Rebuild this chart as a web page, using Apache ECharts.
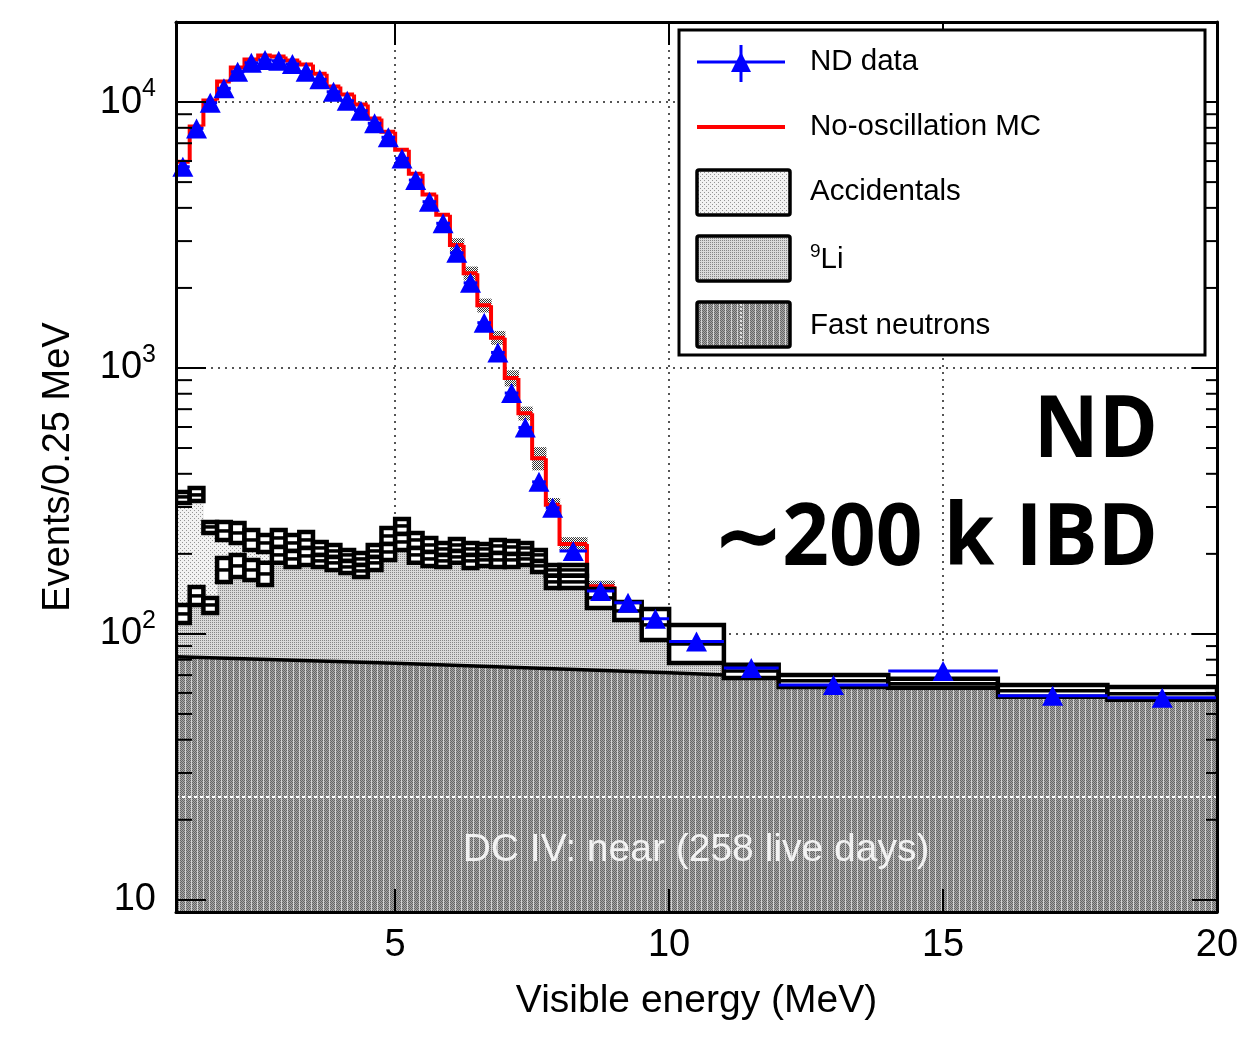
<!DOCTYPE html>
<html>
<head>
<meta charset="utf-8">
<title>ND visible energy spectrum</title>
<script src="https://cdn.jsdelivr.net/npm/echarts@6.0.0/dist/echarts.min.js"></script>
<style>
html,body{margin:0;padding:0;background:#ffffff;}
#chart{width:1256px;height:1037px;}
</style>
</head>
<body>
<div id="chart"></div>
<script>
// ---------------- data ----------------
const binEdges = [1.00,1.25,1.50,1.75,2.00,2.25,2.50,2.75,3.00,3.25,3.50,3.75,4.00,4.25,4.50,4.75,
  5.00,5.25,5.50,5.75,6.00,6.25,6.50,6.75,7.00,7.25,7.50,7.75,8.00,8.5,9.0,9.5,10,11,12,14,16,18,20];

const ndData = [5710,7960,9940,11260,13000,14050,14390,14300,13900,13000,12170,10930,10110,9280,8320,7370,
  6140,5090,4220,3500,2710,2090,1480,1144,805,597,373,298,205,145,131,114,93.7,74.5,64.3,72.6,58.5,57.5];

const mcNoOsc = [5970,8090,10130,11950,13480,14450,14960,14830,14320,13830,12790,11430,10670,9790,8670,7740,
  6620,5380,4490,3770,2900,2270,1720,1300,916,675,458,306,218,151,127,110,94,72.6,66.6,64.9,61.1,59.5];

const mcErrFrac = [0,0,0,0,0,0,0,0,0,0,0,0,0,0,0,0,0,0,0,0,
  0.06,0.06,0.06,0.06,0.07,0.06,0.10,0.06,0.06,0.05,0,0,0,0,0,0,0,0];

const bgTotalHigh = [341.8,353.9,263.7,263.7,261.4,246.0,235.6,246.0,235.6,241.8,221.7,216.0,206.9,201.6,216.0,250.3,
  270.6,239.7,229.5,219.8,227.5,219.8,217.9,225.6,223.6,219.8,206.9,181.7,181.7,147.6,131.9,124.1,108.1,76.5,70.1,67.8,64.3,63.2];
const bgTotalCenter = [327.5,333.2,252.5,243.9,239.7,225.6,219.8,229.5,219.8,225.6,210.5,205.1,198.2,191.4,205.1,233.5,
  254.7,225.6,216.0,208.7,216.0,208.7,208.7,214.2,212.3,210.5,198.2,174.0,174.0,136.6,122.0,108.1,91.7,72.6,66.6,64.9,61.1,59.5];
const bgTotalLow = [310.8,316.3,239.7,225.6,219.8,206.9,203.3,212.3,205.1,210.5,198.2,194.8,188.2,181.7,194.8,217.9,
  237.6,210.5,203.3,198.2,205.1,198.2,198.2,201.6,199.9,199.9,188.2,165.3,165.3,125.2,112.9,94.9,77.8,68.3,63.2,62.7,58.0,56.5];

const bgLiHigh = [128.5,150.2,136.6,193.1,198.2,189.8,185.0,212.3,205.1,210.5,198.2,194.8,188.2,181.7,194.8,217.9,
  237.6,210.5,203.3,198.2,205.1,198.2,198.2,201.6,199.9,199.9,188.2,165.3,165.3,null,null,null,null,null,null,null,null,null];
const bgLiCenter = [118.9,139.0,128.5,174.0,180.2,174.0,168.1,198.2,191.4,196.5,188.2,185.0,178.6,172.5,185.0,203.3,
  221.7,198.2,191.4,188.2,194.8,188.2,189.8,189.8,189.8,191.4,180.2,156.9,156.9,null,null,null,null,null,null,null,null,null];
const bgLiLow = [110.0,128.5,119.9,156.9,163.8,159.6,152.8,185.0,178.6,181.7,178.6,174.0,169.6,163.8,174.0,189.8,
  206.9,185.0,180.2,178.6,185.0,177.1,180.2,178.6,178.6,181.7,171.1,148.9,148.9,null,null,null,null,null,null,null,null,null];

const fnEnergy = [1, 5, 10, 15, 20];
const fnValue = [82, 77.5, 71.5, 65, 58.5];

const yMinorTicks = [20,30,40,50,60,70,80,90,200,300,400,500,600,700,800,900,2000,3000,4000,5000,6000,7000,8000,9000];
const whiteLineLevel = 24.4;

const X_MIN = 1, X_MAX = 20, Y_MIN = 9, Y_MAX = 20000;
const FONT = 'Liberation Sans, Arial, Helvetica, sans-serif';

// ---------------- fill patterns ----------------
function makePattern(w, h, paint) {
  const c = document.createElement('canvas');
  c.width = w; c.height = h;
  paint(c.getContext('2d'));
  return { image: c, repeat: 'repeat' };
}
const accPattern = makePattern(4, 4, ctx => {
  ctx.fillStyle = '#f2f2f2'; ctx.fillRect(0, 0, 4, 4);
  ctx.fillStyle = '#959595'; ctx.fillRect(0, 0, 1, 1); ctx.fillRect(2, 2, 1, 1);
});
const liPattern = makePattern(2, 2, ctx => {
  ctx.fillStyle = '#d9d9d9'; ctx.fillRect(0, 0, 2, 2);
  ctx.fillStyle = '#858585'; ctx.fillRect(0, 0, 1, 1);
});
const fnPattern = makePattern(6, 2, ctx => {
  for (let x = 0; x < 5; x++) for (let y = 0; y < 2; y++) {
    ctx.fillStyle = ((x + y) % 2) ? '#a6a6a6' : '#666666';
    ctx.fillRect(x, y, 1, 1);
  }
  ctx.fillStyle = '#d4d4d4'; ctx.fillRect(5, 0, 1, 2);
});
const mcErrPattern = makePattern(2, 2, ctx => {
  ctx.fillStyle = '#ffffff'; ctx.fillRect(0, 0, 2, 2);
  ctx.fillStyle = '#333333'; ctx.fillRect(0, 0, 1, 1); ctx.fillRect(1, 1, 1, 1);
});

// ---------------- derived series data ----------------
const nBins = binEdges.length - 1;
const idx = Array.from({ length: nBins }, (_, i) => i);
const accFillData = idx.map(i => [binEdges[i], binEdges[i + 1], Y_MIN, bgTotalCenter[i]]);
const liFillData = idx.map(i => [binEdges[i], binEdges[i + 1], Y_MIN,
  bgLiCenter[i] != null ? bgLiCenter[i] : bgTotalCenter[i]]);
const totBoxData = idx.map(i => [binEdges[i], binEdges[i + 1], bgTotalLow[i], bgTotalCenter[i], bgTotalHigh[i]]);
const liBoxData = idx.filter(i => bgLiCenter[i] != null)
  .map(i => [binEdges[i], binEdges[i + 1], bgLiLow[i], bgLiCenter[i], bgLiHigh[i]]);
const mcStepData = idx.map(i => [binEdges[i], binEdges[i + 1], mcNoOsc[i], i === 0 ? bgTotalHigh[0] : mcNoOsc[i - 1]]);
const mcErrData = idx.filter(i => mcErrFrac[i] > 0)
  .map(i => [binEdges[i], binEdges[i + 1], mcNoOsc[i] * (1 - mcErrFrac[i]), mcNoOsc[i] * (1 + mcErrFrac[i])]);
const ndErrData = idx.map(i => [binEdges[i], binEdges[i + 1], ndData[i]]);
const ndPoints = idx.map(i => [(binEdges[i] + binEdges[i + 1]) / 2, ndData[i]]);
const fnData = fnEnergy.map((e, i) => [e, fnValue[i]]);
const minorTickData = yMinorTicks.map(v => [X_MIN, v]);

// ---------------- renderers ----------------
function rectRenderer(fill) {
  return function (params, api) {
    const a = api.coord([api.value(0), api.value(3)]);
    const b = api.coord([api.value(1), api.value(2)]);
    return { type: 'rect', shape: { x: a[0], y: a[1], width: b[0] - a[0] + 0.6, height: b[1] - a[1] },
      style: { fill: fill, stroke: null } };
  };
}
function boxRenderer(params, api) {
  const tl = api.coord([api.value(0), api.value(4)]);
  const br = api.coord([api.value(1), api.value(2)]);
  const cy = api.coord([api.value(0), api.value(3)])[1];
  return { type: 'group', children: [
    { type: 'rect', shape: { x: tl[0], y: tl[1], width: br[0] - tl[0], height: br[1] - tl[1] },
      style: { fill: '#ffffff', stroke: '#000000', lineWidth: 4.5 } },
    { type: 'line', shape: { x1: tl[0], y1: cy, x2: br[0], y2: cy },
      style: { stroke: '#000000', lineWidth: 3.5 } }
  ] };
}
function stepRenderer(params, api) {
  const a = api.coord([api.value(0), api.value(3)]);
  const b = api.coord([api.value(0), api.value(2)]);
  const c = api.coord([api.value(1), api.value(2)]);
  return { type: 'polyline', shape: { points: [a, b, c] },
    style: { stroke: '#ff0000', lineWidth: 4, fill: null, lineJoin: 'miter' } };
}
function hbarRenderer(params, api) {
  const a = api.coord([api.value(0), api.value(2)]);
  const b = api.coord([api.value(1), api.value(2)]);
  return { type: 'line', shape: { x1: a[0], y1: a[1], x2: b[0], y2: b[1] },
    style: { stroke: '#0000ff', lineWidth: 3 } };
}
function minorTickRenderer(params, api) {
  const l = api.coord([X_MIN, api.value(1)]);
  const r = api.coord([X_MAX, api.value(1)]);
  return { type: 'group', children: [
    { type: 'line', shape: { x1: l[0], y1: l[1], x2: l[0] + 16, y2: l[1] }, style: { stroke: '#000', lineWidth: 2 } },
    { type: 'line', shape: { x1: r[0] - 11, y1: r[1], x2: r[0], y2: r[1] }, style: { stroke: '#000', lineWidth: 2 } }
  ] };
}

// ---------------- axes ----------------
const frameLine = { show: true, lineStyle: { color: '#000000', width: 3 } };
const gridLine = { show: true, lineStyle: { color: '#555555', width: 2, type: [2, 5] } };
const hidden = { show: false };

const yLabelFormatter = function (v) {
  const e = Math.round(Math.log10(v));
  if (Math.abs(v / Math.pow(10, e) - 1) > 1e-6) return '';
  return e === 1 ? '10' : '10{sup|' + e + '}';
};

const option = {
  animation: false,
  backgroundColor: '#ffffff',
  grid: { left: 176, right: 39, top: 22, bottom: 125, containLabel: false },
  xAxis: [
    { type: 'value', position: 'bottom', min: X_MIN, max: X_MAX, splitNumber: 4, z: 10,
      axisLine: frameLine, axisTick: { show: true, inside: true, length: 23, lineStyle: { color: '#000', width: 2 } },
      axisLabel: { show: true, showMinLabel: false, margin: 15, fontSize: 38, color: '#000', fontFamily: FONT },
      splitLine: hidden,
      name: 'Visible energy (MeV)', nameLocation: 'middle', nameGap: 70,
      nameTextStyle: { fontSize: 39, color: '#000', fontFamily: FONT } },
    { type: 'value', position: 'top', min: X_MIN, max: X_MAX, splitNumber: 4, z: 10,
      axisLine: frameLine, axisTick: { show: true, inside: true, length: 23, lineStyle: { color: '#000', width: 2 } },
      axisLabel: hidden, splitLine: hidden },
    { type: 'value', position: 'bottom', min: X_MIN, max: X_MAX, splitNumber: 4, z: 0,
      axisLine: hidden, axisTick: hidden, axisLabel: hidden, splitLine: gridLine }
  ],
  yAxis: [
    { type: 'log', logBase: 10, position: 'left', min: Y_MIN, max: Y_MAX, z: 10,
      axisLine: frameLine, axisTick: { show: true, inside: true, length: 30, lineStyle: { color: '#000', width: 2 } },
      axisLabel: { show: true, showMinLabel: false, showMaxLabel: false, margin: 20, fontSize: 38, color: '#000',
        fontFamily: FONT, lineHeight: 50, formatter: yLabelFormatter,
        rich: { sup: { fontSize: 25, fontFamily: FONT, color: '#000', verticalAlign: 'top', lineHeight: 25 } } },
      splitLine: hidden,
      name: 'Events/0.25 MeV', nameLocation: 'middle', nameGap: 98,
      nameTextStyle: { fontSize: 38, color: '#000', fontFamily: FONT } },
    { type: 'log', logBase: 10, position: 'right', min: Y_MIN, max: Y_MAX, z: 10,
      axisLine: frameLine, axisTick: { show: true, inside: true, length: 25, lineStyle: { color: '#000', width: 2 } },
      axisLabel: hidden, splitLine: hidden },
    { type: 'log', logBase: 10, position: 'left', min: Y_MIN, max: Y_MAX, z: 0,
      axisLine: hidden, axisTick: hidden, axisLabel: hidden, splitLine: gridLine }
  ],
  series: [
    { name: 'Accidentals fill', type: 'custom', z: 1, silent: true, clip: true,
      encode: { x: [0, 1], y: [2, 3] }, renderItem: rectRenderer(accPattern), data: accFillData },
    { name: '9Li fill', type: 'custom', z: 2, silent: true, clip: true,
      encode: { x: [0, 1], y: [2, 3] }, renderItem: rectRenderer(liPattern), data: liFillData },
    { name: 'Fast neutrons', type: 'line', z: 3, silent: true, symbol: 'none', data: fnData,
      lineStyle: { color: '#000000', width: 3.5 },
      areaStyle: { color: fnPattern, opacity: 1, origin: 'start' },
      markLine: { silent: true, symbol: ['none', 'none'], label: { show: false },
        lineStyle: { color: '#ffffff', type: [3, 3], width: 2 }, data: [{ yAxis: whiteLineLevel }] } },
    { name: 'MC uncertainty', type: 'custom', z: 4, silent: true, clip: true,
      encode: { x: [0, 1], y: [2, 3] }, renderItem: rectRenderer(mcErrPattern), data: mcErrData },
    { name: 'No-oscillation MC', type: 'custom', z: 5, silent: true, clip: true,
      encode: { x: [0, 1], y: [2, 3] }, renderItem: stepRenderer, data: mcStepData },
    { name: 'Background total band', type: 'custom', z: 6, silent: true, clip: true,
      encode: { x: [0, 1], y: [2, 4] }, renderItem: boxRenderer, data: totBoxData },
    { name: 'Background 9Li band', type: 'custom', z: 6, silent: true, clip: true,
      encode: { x: [0, 1], y: [2, 4] }, renderItem: boxRenderer, data: liBoxData },
    { name: 'ND data x-errors', type: 'custom', z: 7, silent: true, clip: true,
      encode: { x: [0, 1], y: 2 }, renderItem: hbarRenderer, data: ndErrData },
    { name: 'ND data', type: 'scatter', z: 8, silent: true, symbol: 'triangle', symbolSize: [21, 20],
      itemStyle: { color: '#0000ff', opacity: 1 }, data: ndPoints },
    { name: 'minor ticks', type: 'custom', z: 9, silent: true, clip: false,
      encode: { x: 0, y: 1 }, renderItem: minorTickRenderer, data: minorTickData }
  ],
  graphic: [
    { type: 'rect', z: 100, shape: { x: 679, y: 30, width: 526, height: 325 },
      style: { fill: '#ffffff', stroke: '#000000', lineWidth: 3 } },
    // ND data entry
    { type: 'line', z: 101, shape: { x1: 697, y1: 62, x2: 785, y2: 62 }, style: { stroke: '#0000ff', lineWidth: 3 } },
    { type: 'line', z: 101, shape: { x1: 741, y1: 45, x2: 741, y2: 82 }, style: { stroke: '#0000ff', lineWidth: 3 } },
    { type: 'polygon', z: 102, shape: { points: [[741, 52], [731, 72], [751, 72]] }, style: { fill: '#0000ff' } },
    { type: 'text', z: 102, x: 810, y: 62, style: { text: 'ND data', font: '29.5px ' + FONT, fill: '#000', align: 'left', verticalAlign: 'middle' } },
    // MC entry
    { type: 'line', z: 101, shape: { x1: 697, y1: 127, x2: 785, y2: 127 }, style: { stroke: '#ff0000', lineWidth: 4 } },
    { type: 'text', z: 102, x: 810, y: 127, style: { text: 'No-oscillation MC', font: '29.5px ' + FONT, fill: '#000', align: 'left', verticalAlign: 'middle' } },
    // Accidentals
    { type: 'rect', z: 101, shape: { x: 697, y: 170, width: 93, height: 45, r: 2 }, style: { fill: accPattern, stroke: '#000', lineWidth: 3.5 } },
    { type: 'text', z: 102, x: 810, y: 192, style: { text: 'Accidentals', font: '29.5px ' + FONT, fill: '#000', align: 'left', verticalAlign: 'middle' } },
    // 9Li
    { type: 'rect', z: 101, shape: { x: 697, y: 236, width: 93, height: 45, r: 2 }, style: { fill: liPattern, stroke: '#000', lineWidth: 3.5 } },
    { type: 'text', z: 102, x: 810, y: 260, style: { text: '{sup|9}Li', font: '29.5px ' + FONT, fill: '#000', align: 'left', verticalAlign: 'middle',
      rich: { sup: { fontSize: 19, fontFamily: FONT, fill: '#000', verticalAlign: 'top', lineHeight: 19 } }, lineHeight: 36 } },
    // Fast neutrons
    { type: 'rect', z: 101, shape: { x: 697, y: 302, width: 93, height: 45, r: 2 }, style: { fill: fnPattern, stroke: '#000', lineWidth: 3.5 } },
    { type: 'line', z: 102, shape: { x1: 741, y1: 304, x2: 741, y2: 345 }, style: { stroke: '#ffffff', lineWidth: 1.5, lineDash: [2, 2] } },
    { type: 'text', z: 102, x: 810, y: 326, style: { text: 'Fast neutrons', font: '29.5px ' + FONT, fill: '#000', align: 'left', verticalAlign: 'middle' } },
    // annotations
    { type: 'text', z: 103, x: 1158, y: 432, scaleX: 0.93, style: { text: 'ND', font: 'bold 86px "Open Sans", sans-serif', fill: '#000', align: 'right', verticalAlign: 'middle' } },
    { type: 'text', z: 103, x: 1158, y: 540, scaleX: 0.95, style: { text: '\u223C200 k IBD', font: 'bold 86px "Open Sans", sans-serif', fill: '#000', align: 'right', verticalAlign: 'middle' } },
    { type: 'text', z: 103, x: 696, y: 850, style: { text: 'DC IV: near (258 live days)', font: '39px ' + FONT, fill: '#f2f2f2', align: 'center', verticalAlign: 'middle' } }
  ]
};

const chart = echarts.init(document.getElementById('chart'), null, { renderer: 'canvas' });
chart.setOption(option);
</script>
</body>
</html>
